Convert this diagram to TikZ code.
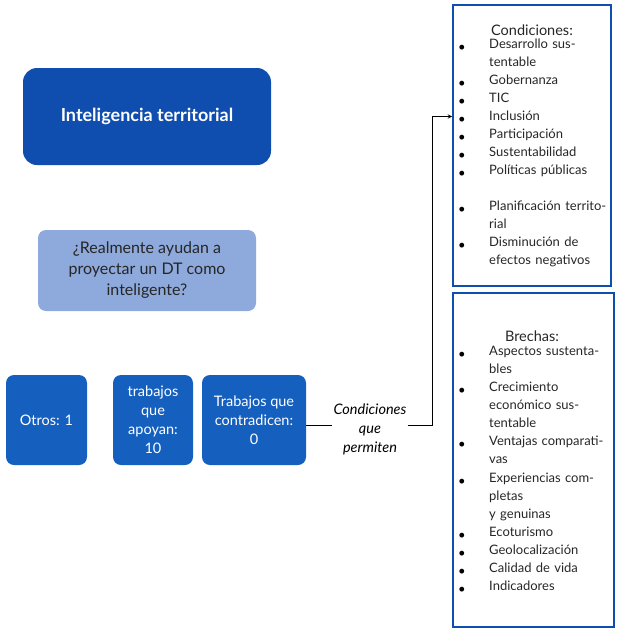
\documentclass[tikz,border=0pt]{standalone}
\usepackage{fontspec}
\setmainfont{Lato}
\begin{document}
\begin{tikzpicture}[x=1pt,y=-1pt,
  dark/.style={fill=blueD,rounded corners=14pt,text=white,align=center,inner sep=0pt},
  mid/.style={fill=blueM,rounded corners=8pt,text=white,align=center,inner sep=0pt,font=\fontsize{14.5}{19}\selectfont},
  frame/.style={draw=blueD,line width=1.6pt,inner sep=0pt},
  item/.style={anchor=north west,text width=122pt,align=left,inner sep=0pt,font=\fontsize{13}{18}\selectfont,text=black!85},
  bul/.style={font=\fontsize{13}{18}\selectfont,inner sep=0pt}]
\definecolor{blueD}{HTML}{0F4DAE}
\definecolor{blueM}{HTML}{1560BE}
\definecolor{blueL}{HTML}{8EA9DB}
\useasboundingbox (0,0) rectangle (617,633);
\node[dark,minimum width=248pt,minimum height=97pt,font=\fontsize{18}{22}\selectfont\bfseries] (it) at (147,116.5) {Inteligencia territorial};
\node[fill=blueL,rounded corners=8pt,minimum width=218pt,minimum height=81pt,align=center,inner sep=0pt,font=\fontsize{16}{21}\selectfont,text=black!85] (q) at (147,270.5) {¿Realmente ayudan a\\proyectar un DT como\\inteligente?};
\node[mid,minimum width=81pt,minimum height=90pt] (o) at (46.5,420) {Otros: 1};
\node[mid,minimum width=80pt,minimum height=90pt] (t) at (153,420) {trabajos\\que\\apoyan:\\10};
\node[mid,minimum width=104pt,minimum height=90pt] (c) at (254,420) {Trabajos que\\contradicen:\\0};
\node[font=\itshape\fontsize{14.5}{19}\selectfont,align=center,inner sep=1pt] (lab) at (370,429) {Condiciones\\que\\permiten};
\node[frame,minimum width=158pt,minimum height=281pt] (b1) at (532,145.5) {};
\node[frame,minimum width=161pt,minimum height=334pt] (b2) at (533.5,460) {};
\coordinate (k) at (432,425);
\draw[line width=1pt] (c.east|-k) -- (lab.west|-k);
\draw[line width=1pt,-stealth] (lab.east|-k) -- (k) |- (b1.west|-it);
\node[font=\fontsize{14.5}{18}\selectfont,text=black!85] (h1) at (532,30) {Condiciones:};
\node[font=\fontsize{14.5}{18}\selectfont,text=black!85] (h2) at (532,336) {Brechas:};
\foreach \y/\t in {48/Desarrollo sustentable,84/Gobernanza,102/TIC,120/Inclusión,138/Participación,156/Sustentabilidad,174/Políticas públicas,210/Planificación territorial,246/Disminución de efectos negativos,355/Aspectos sustentables,391/Crecimiento económico sustentable,445/Ventajas comparativas,482/Experiencias completas\\y genuinas,536/Ecoturismo,554/Geolocalización,572/Calidad de vida,590/Indicadores}{
  \node[bul] at (462,\y) {•};
  \node[item] at (489,\y-9) {\t};
}
\end{tikzpicture}
\end{document}
